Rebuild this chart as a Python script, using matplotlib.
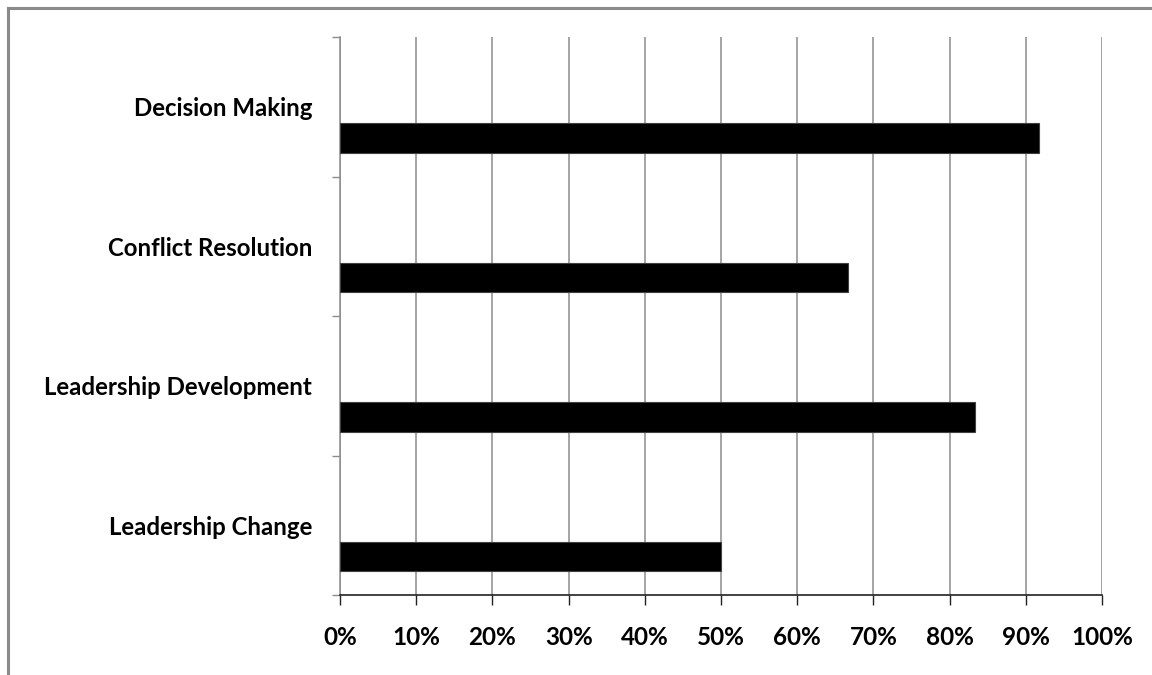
import matplotlib
matplotlib.use('agg')
import matplotlib.pyplot as plt
from matplotlib.lines import Line2D
from matplotlib.ticker import FuncFormatter
import numpy as np

# Données du graphique
categories = ['Decision Making', 'Conflict Resolution', 'Leadership Development', 'Leadership Change']
valeurs = [91.7, 66.7, 83.3, 50.0]
graduations = [0, 10, 20, 30, 40, 50, 60, 70, 80, 90, 100]

plt.rcParams['font.family'] = ['Lato', 'DejaVu Sans']
plt.rcParams['font.weight'] = 'bold'

fig = plt.figure(figsize=(11.52, 6.75), dpi=100)
ax = fig.add_axes([340 / 1152, 1 - 595 / 675, 762 / 1152, 558 / 675])

# Barres décalées vers le bas de chaque catégorie
pos = np.arange(len(categories))
ax.barh(pos + 0.724, valeurs, height=0.215, color='black', edgecolor='#404040',
        linewidth=0.8, zorder=3)

ax.set_xlim(0, 100)
ax.set_ylim(len(categories), 0)

# Axe x : pourcentages
ax.set_xticks(graduations)
ax.xaxis.set_major_formatter(FuncFormatter(lambda v, p: f'{v:.0f}%'))
ax.tick_params(axis='x', length=7, width=1, color='#222222', pad=15, labelsize=17.5)
ax.grid(axis='x', color='#8c8c8c', linewidth=1.1, zorder=0)

# Axe y : graduations aux limites, libellés au centre
ax.set_yticks(np.arange(len(categories) + 1))
ax.set_yticklabels([])
ax.set_yticks(pos + 0.5, minor=True)
ax.set_yticklabels(categories, minor=True)
ax.tick_params(axis='y', which='major', length=6, width=1, color='#8c8c8c')
ax.tick_params(axis='y', which='minor', length=0, pad=20, labelsize=17.3)

ax.spines['top'].set_visible(False)
ax.spines['right'].set_visible(False)
ax.spines['left'].set_color('#8c8c8c')
ax.spines['left'].set_linewidth(1.1)
ax.spines['bottom'].set_color('#222222')
ax.spines['bottom'].set_linewidth(1.2)

# Cadre gris autour de la zone du graphique
fig.add_artist(Line2D([8 / 1152, 1.0], [1 - 8 / 675, 1 - 8 / 675], color='#8a8a8a', linewidth=2.2))
fig.add_artist(Line2D([8 / 1152, 8 / 1152], [0, 1 - 8 / 675], color='#8a8a8a', linewidth=2.2))

fig.savefig('out.png', dpi=100)
